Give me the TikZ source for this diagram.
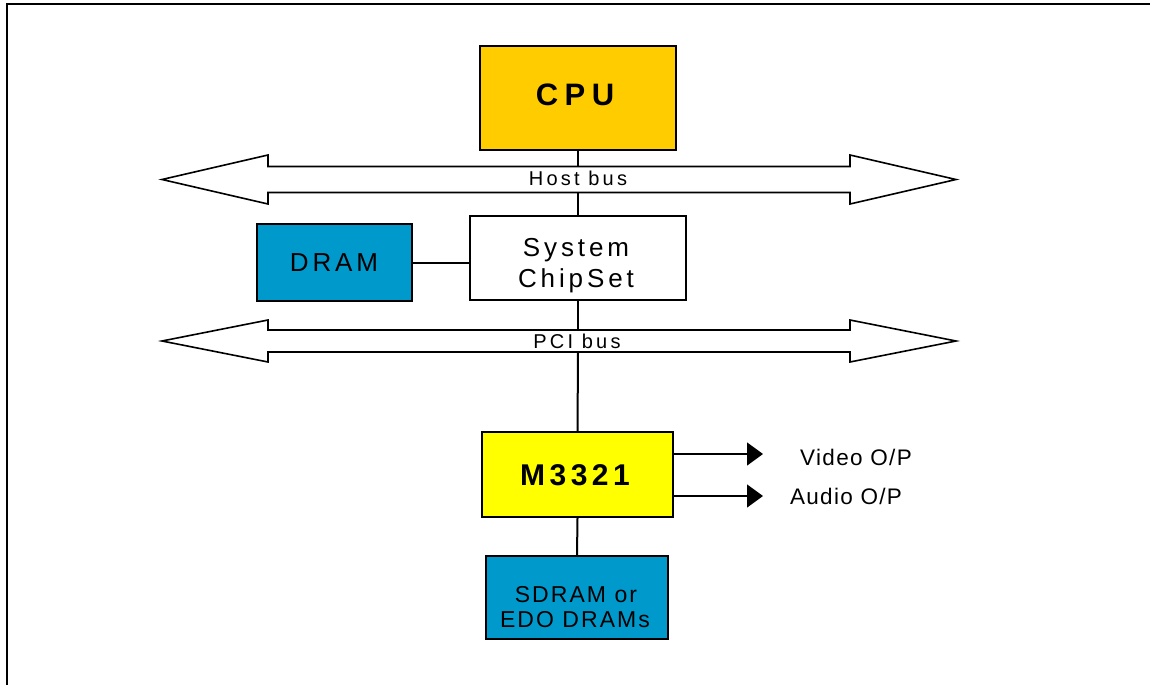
\documentclass[tikz,border=0pt]{standalone}
\usepackage{fontspec}
\setmainfont{Liberation Sans}
\newfontfamily\spA[LetterSpace=15]{Liberation Sans}
\newfontfamily\spB[LetterSpace=21]{Liberation Sans}
\newfontfamily\spC[LetterSpace=16]{Liberation Sans}
\newfontfamily\spD[LetterSpace=9]{Liberation Sans}
\newfontfamily\spE[LetterSpace=6]{Liberation Sans}
\usetikzlibrary{arrows.meta}
\definecolor{cpuc}{HTML}{FFCC00}
\definecolor{dramc}{HTML}{0099CC}
\definecolor{mc}{HTML}{FFFF00}
\tikzset{
  box/.style={draw, line width=1.8pt, inner sep=0pt},
  wire/.style={line width=2pt},
  busarrow/.style={draw, line width=1.6pt, fill=white, line join=miter},
  outarrow/.style={line width=1.3pt, -{Triangle[length=16pt,width=23pt]}},
  lbl/.style={inner sep=0pt, anchor=base}
}
\begin{document}
\begin{tikzpicture}[x=1pt,y=-1pt]
\useasboundingbox (0,0) rectangle (1150,685);
\draw[line width=2.3pt] (7,685) -- (7,4) -- (1150,4);

% buses
\draw[busarrow] (162,179.5) -- (268,155) -- (268,166.5) -- (850,166.5) -- (850,155) -- (956,179.5)
  -- (850,204) -- (850,192.5) -- (268,192.5) -- (268,204) -- cycle;
\draw[busarrow] (162,341) -- (268,320) -- (268,330) -- (850,330) -- (850,320) -- (956,341)
  -- (850,362) -- (850,352) -- (268,352) -- (268,362) -- cycle;
\coordinate (hbT) at (578,166.5);
\coordinate (hbB) at (578,192.5);
\coordinate (pciT) at (578,330);
\coordinate (pciB) at (578,352);
\node[lbl, font=\spC\fontsize{20}{24}\selectfont] (hostlbl) at (578,185) {Host bus};
\node[lbl, font=\spC\fontsize{20}{24}\selectfont] (pcilbl) at (577,348) {PCI bus};

% boxes
\node[box, fill=cpuc, minimum width=196pt, minimum height=104pt] (cpu) at (578,98) {};
\node[box, fill=white, minimum width=216pt, minimum height=84pt] (sys) at (578,258) {};
\node[box, fill=dramc, minimum width=155pt, minimum height=77pt] (dram) at (334.5,262.5) {};
\node[box, fill=mc, minimum width=191pt, minimum height=85pt] (m) at (577.5,474.5) {};
\node[box, fill=dramc, minimum width=182pt, minimum height=83pt] (sd) at (577,597.5) {};

% box texts
\node[lbl, font=\spB\bfseries\fontsize{31}{36}\selectfont] (cput) at (575,105) {CPU};
\node[lbl, font=\spA\fontsize{26}{31}\selectfont] (syst1) at (576,256) {System};
\node[lbl, font=\spA\fontsize{26}{31}\selectfont] (syst2) at (576,287) {ChipSet};
\node[lbl, font=\spA\fontsize{26}{31}\selectfont] (dramt) at (334,271) {DRAM};
\node[lbl, font=\spA\bfseries\fontsize{30}{36}\selectfont] (mt) at (575,485) {M3321};
\node[lbl, font=\spD\fontsize{23}{25}\selectfont] (sdt1) at (576,602) {SDRAM or};
\node[lbl, font=\spD\fontsize{23}{25}\selectfont] (sdt2) at (575,627) {EDO DRAMs};

% connectors
\draw[wire] (cpu.south) -- (hbT);
\draw[wire] (hbB) -- (sys.north);
\draw[wire] (dram.east) -- (sys.west |- dram.east);
\draw[wire] (sys.south) -- (pciT);
\draw[wire] (pciB) -- (m.north);
\draw[wire] (m.south) -- (sd.north);

% outputs
\coordinate (vid) at (763,454);
\coordinate (aud) at (763,496);
\draw[outarrow] (m.east |- vid) -- (vid);
\draw[outarrow] (m.east |- aud) -- (aud);
\node[lbl, font=\spE\fontsize{22.5}{26}\selectfont] (vidl) at (856,465) {Video O/P};
\node[lbl, font=\spE\fontsize{22.5}{26}\selectfont] (audl) at (846,504) {Audio O/P};
\end{tikzpicture}
\end{document}
